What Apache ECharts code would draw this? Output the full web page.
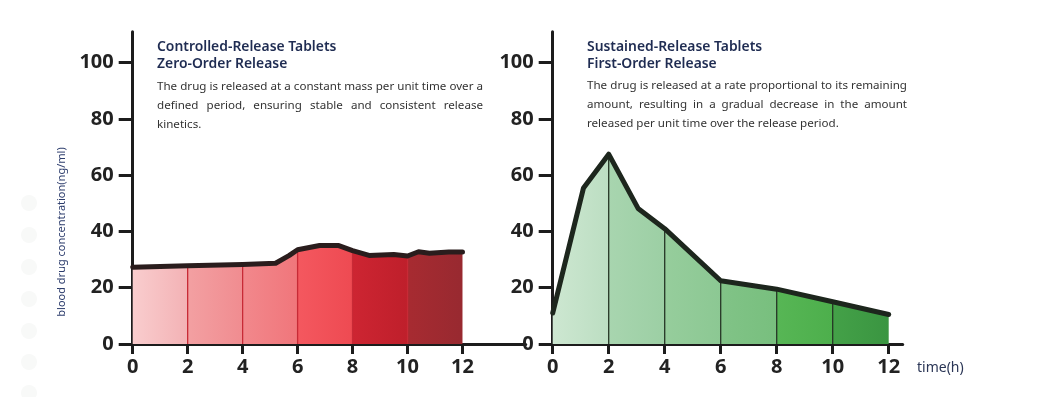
<!DOCTYPE html>
<html>
<head>
<meta charset="utf-8">
<script src="https://cdn.jsdelivr.net/npm/echarts@6/dist/echarts.min.js"></script>
<style>html,body{margin:0;padding:0;background:#fff}#c{width:1041px;height:397px}</style>
</head>
<body>
<div id="c"></div>
<script>
// ---- data ----
const hoursL = [0, 2, 4, 5.2, 5.7, 6, 6.8, 7.5, 8, 8.6, 9.5, 10, 10.4, 10.8, 11.5, 12];
const concL  = [27.3, 27.8, 28.3, 28.7, 31.5, 33.5, 35, 35, 33.2, 31.5, 31.8, 31.3, 32.8, 32.3, 32.7, 32.7];
const hoursR = [0, 1.1, 2, 3.05, 4, 6, 8, 10, 12];
const concR  = [11, 55.5, 67.5, 48.2, 41, 22.5, 19.5, 15, 10.5];
const xTicks = [0, 2, 4, 6, 8, 10, 12];
const yTicks = [0, 20, 40, 60, 80, 100];
const dividerHours = [2, 4, 6, 8, 10];
const titleL = ['Controlled-Release Tablets', 'Zero-Order Release'];
const bodyL = ['The drug is released at a constant mass per unit time over a',
               'defined period, ensuring stable and consistent release',
               'kinetics.'];
const titleR = ['Sustained-Release Tablets', 'First-Order Release'];
const bodyR = ['The drug is released at a rate proportional to its remaining',
               'amount, resulting in a gradual decrease in the amount',
               'released per unit time over the release period.'];
const yName = 'blood drug concentration(ng/ml)';
const xName = 'time(h)';

// ---- helpers ----
const pts = (h, c) => h.map((x, i) => [x, c[i]]);
const divs = (h, c) => h.map((x, i) => [x, c[i]]).filter(p => dividerHours.indexOf(p[0]) >= 0);

function bandGradient(pairs) {
  const stops = [];
  const n = pairs.length;
  pairs.forEach((p, i) => {
    stops.push({offset: i / n, color: p[0]});
    stops.push({offset: (i + 1) / n - 0.0001, color: p[1]});
  });
  return new echarts.graphic.LinearGradient(0, 0, 1, 0, stops);
}
const redBands = [['#f9cdce', '#f3b2b5'], ['#f3a0a2', '#f08c90'], ['#f2888c', '#f0767b'],
                  ['#f4585f', '#ee4a52'], ['#cd2532', '#bf1f2b'], ['#a72b31', '#982930']];
const greenBands = [['#cde7d1', '#bcdec2'], ['#a8d5af', '#9ccfa4'], ['#96cd9c', '#8cc893'],
                    ['#81c387', '#78bf7e'], ['#57b655', '#4daf4c'], ['#44a148', '#3a9541']];

const axisColor = '#1c1c1c';
const labelFont = {fontSize: 20, fontWeight: 'bold', color: '#222', fontFamily: 'Open Sans'};

function xAxis(gi, max) {
  return {type: 'value', gridIndex: gi, min: 0, max: max,
    axisLine: {show: true, onZero: false, lineStyle: {color: axisColor, width: 3}},
    axisTick: {show: true, customValues: xTicks, length: 10, lineStyle: {color: axisColor, width: 3}},
    axisLabel: Object.assign({customValues: xTicks, margin: 13}, labelFont),
    splitLine: {show: false}};
}
function yAxis(gi) {
  return {type: 'value', gridIndex: gi, min: 0, max: 111,
    axisLine: {show: true, onZero: false, lineStyle: {color: axisColor, width: 3}},
    axisTick: {show: true, customValues: yTicks, length: 14, lineStyle: {color: axisColor, width: 3}},
    axisLabel: Object.assign({customValues: yTicks, margin: 19}, labelFont),
    splitLine: {show: false}};
}
function areaSeries(gi, data, grad) {
  return {type: 'line', xAxisIndex: gi, yAxisIndex: gi, data: data, symbol: 'none', z: 1,
    lineStyle: {width: 0, opacity: 0}, areaStyle: {color: grad, opacity: 1}, silent: true};
}
function lineSeries(gi, data, color) {
  return {type: 'line', xAxisIndex: gi, yAxisIndex: gi, data: data, symbol: 'none', z: 3,
    lineStyle: {width: 5, color: color, cap: 'round', join: 'round'}, silent: true};
}
function dividerSeries(gi, data, color) {
  return {type: 'custom', xAxisIndex: gi, yAxisIndex: gi, data: data, z: 2, silent: true,
    renderItem: function (params, api) {
      const p0 = api.coord([api.value(0), 0]);
      const p1 = api.coord([api.value(0), api.value(1)]);
      return {type: 'line', shape: {x1: p0[0], y1: p0[1], x2: p1[0], y2: p1[1]},
        style: {stroke: color, lineWidth: 1.3}};
    }};
}

// justified text layout
const bodyFont = '11.6px "Noto Sans"';
const measureCtx = document.createElement('canvas').getContext('2d');
function textBlock(x0, width, titles, body, yTitle, yBody) {
  const els = [];
  titles.forEach((t, i) => {
    els.push({type: 'text', x: x0, y: yTitle + i * 17, style: {text: t, font: '600 13.9px "Noto Sans"',
      fill: '#1f2c52', verticalAlign: 'middle'}});
  });
  measureCtx.font = bodyFont;
  body.forEach((line, i) => {
    const y = yBody + i * 19;
    const words = line.split(' ');
    if (i === body.length - 1) {
      els.push({type: 'text', x: x0, y: y, style: {text: line, font: bodyFont, fill: '#333', verticalAlign: 'middle'}});
      return;
    }
    const widths = words.map(w => measureCtx.measureText(w).width);
    const total = widths.reduce((a, b) => a + b, 0);
    const gap = (width - total) / (words.length - 1);
    let x = x0;
    words.forEach((w, j) => {
      els.push({type: 'text', x: x, y: y, style: {text: w, font: bodyFont, fill: '#333', verticalAlign: 'middle'}});
      x += widths[j] + gap;
    });
  });
  return els;
}

const circles = [203, 235, 267, 299, 331, 362, 393].map(cy => ({type: 'circle', z: -1,
  shape: {cx: 29, cy: cy, r: 8}, style: {fill: '#f8f9f8'}}));

const chart = echarts.init(document.getElementById('c'), null, {renderer: 'canvas'});
chart.setOption({
  backgroundColor: '#ffffff',
  animation: false,
  grid: [
    {left: 132.7, top: 31.8, width: 393, height: 312.2},
    {left: 552.7, top: 31.8, width: 350, height: 312.2}
  ],
  xAxis: [xAxis(0, 14.3), xAxis(1, 12.5)],
  yAxis: [yAxis(0), yAxis(1)],
  series: [
    areaSeries(0, pts(hoursL, concL), bandGradient(redBands)),
    dividerSeries(0, divs(hoursL, concL), '#c82a36'),
    lineSeries(0, pts(hoursL, concL), '#2a1d1d'),
    areaSeries(1, pts(hoursR, concR), bandGradient(greenBands)),
    dividerSeries(1, divs(hoursR, concR), '#253525'),
    lineSeries(1, pts(hoursR, concR), '#1d261d')
  ],
  graphic: [].concat(
    circles,
    textBlock(157, 326, titleL, bodyL, 47, 87),
    textBlock(587, 320, titleR, bodyR, 47, 86),
    [{type: 'text', x: 62, y: 232, rotation: Math.PI / 2,
      style: {text: yName, font: '11px "Noto Sans"', fill: '#2c3c6c', align: 'center', verticalAlign: 'middle'}},
     {type: 'text', x: 917, y: 368,
      style: {text: xName, font: '14px "Noto Sans"', fill: '#2b3656', verticalAlign: 'middle'}}]
  )
});
</script>
</body>
</html>
